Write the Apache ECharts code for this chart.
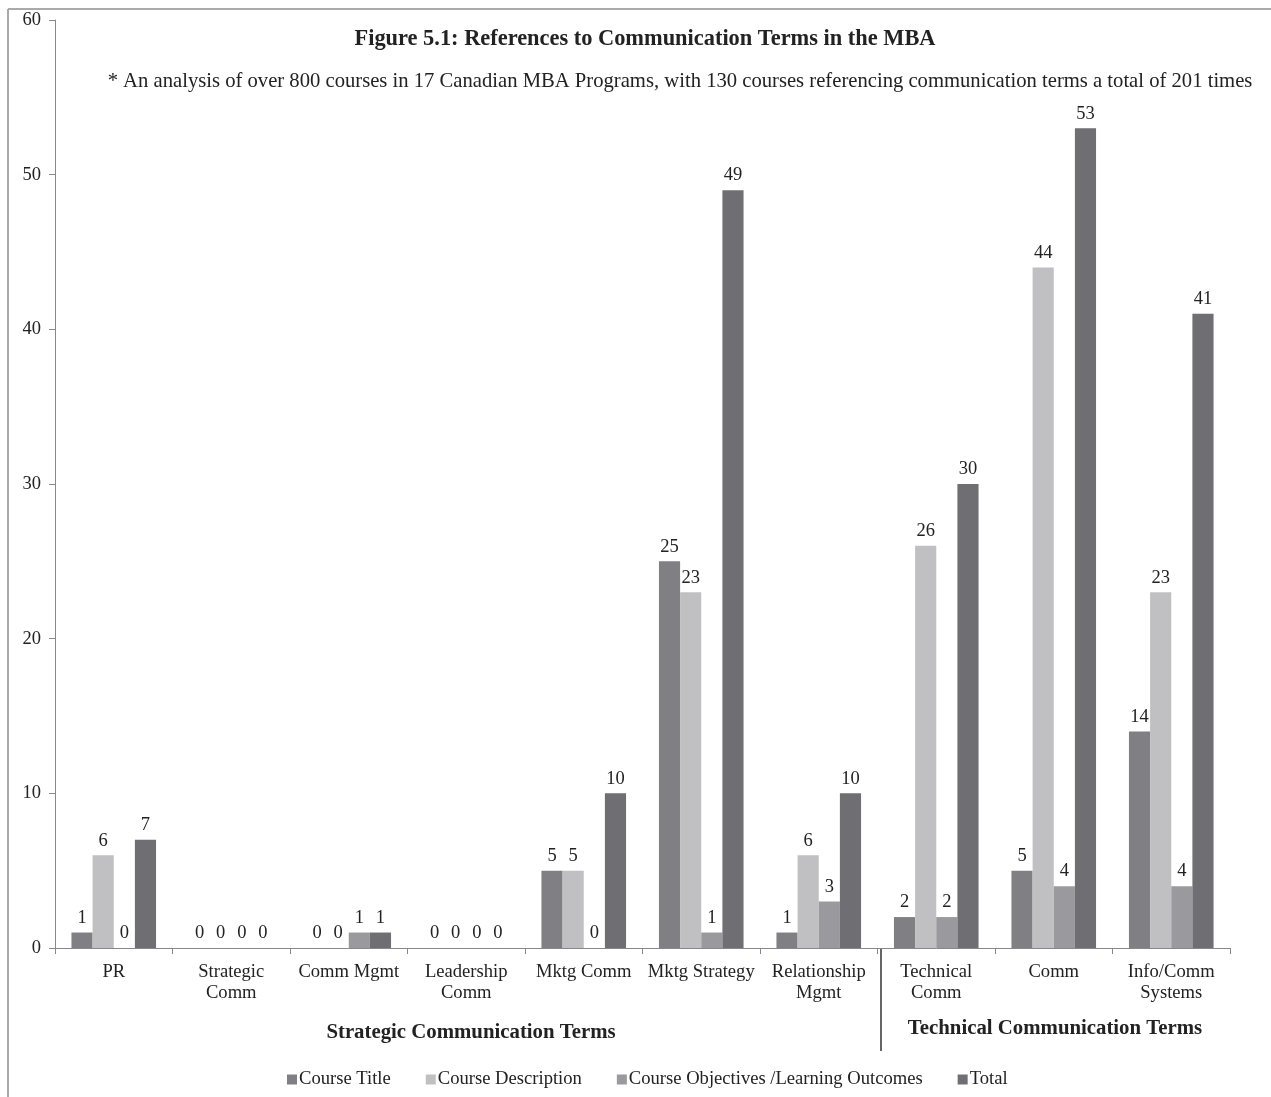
<!DOCTYPE html>
<html><head><meta charset="utf-8">
<script src="https://cdn.jsdelivr.net/npm/echarts@6/dist/echarts.min.js"></script>
<style>html,body{margin:0;padding:0;background:#fff}#c{width:1271px;height:1097px}</style>
</head><body><div id="c"></div>
<script>
var categories = ['PR','Strategic\nComm','Comm Mgmt','Leadership\nComm','Mktg Comm','Mktg Strategy','Relationship\nMgmt','Technical\nComm','Comm','Info/Comm\nSystems'];
var seriesNames = ['Course Title','Course Description','Course Objectives /Learning Outcomes','Total'];
var courseTitle = [1,0,0,0,5,25,1,2,5,14];
var courseDescription = [6,0,0,0,5,23,6,26,44,23];
var courseObjectives = [0,0,1,0,0,1,3,2,4,4];
var total = [7,0,1,0,10,49,10,30,53,41];
var yTicks = [0,10,20,30,40,50,60];
var colors = ['#808084','#c0c0c2','#9a9a9e','#6e6e73'];
var font = "'Liberation Serif','DejaVu Serif',serif";
var chart = echarts.init(document.getElementById('c'));
function mk(name, data, color){
  return {name:name,type:'bar',data:data,barGap:'0%',barCategoryGap:'28%',
    itemStyle:{color:color},
    label:{show:true,position:'top',fontFamily:font,fontSize:18.5,color:'#222',distance:5}};
}
chart.setOption({
  animation:false,
  textStyle:{fontFamily:font},
  title:[
    {text:'Figure 5.1: References to Communication Terms in the MBA',left:640,top:23,textAlign:'center',
     textStyle:{fontFamily:font,fontSize:22.4,fontWeight:'bold',color:'#222'}},
    {text:'* An analysis of over 800 courses in 17 Canadian MBA Programs, with 130 courses referencing communication terms a total of 201 times',
     left:675,top:66,textAlign:'center',textStyle:{fontFamily:font,fontSize:20.65,fontWeight:'normal',color:'#222'}}
  ],
  legend:{bottom:3,left:282,itemWidth:10,itemHeight:10,itemGap:35,icon:'rect',
    textStyle:{fontFamily:font,fontSize:18.6,color:'#222',padding:[0,0,0,-3]},data:seriesNames},
  grid:{left:55,right:41,top:20,bottom:149,containLabel:false},
  xAxis:{type:'category',data:categories,
    axisLine:{lineStyle:{color:'#888'}},
    axisTick:{show:true,alignWithLabel:false,length:6,lineStyle:{color:'#888'}},
    axisLabel:{fontFamily:font,fontSize:18.6,color:'#222',lineHeight:21,margin:14,interval:0}},
  yAxis:{type:'value',min:0,max:60,interval:10,
    axisLine:{show:true,lineStyle:{color:'#888'}},
    axisTick:{show:true,length:6,lineStyle:{color:'#888'}},
    splitLine:{show:false},
    axisLabel:{fontFamily:font,fontSize:18.5,color:'#222',margin:14,
      formatter:function(v){return yTicks.indexOf(v)>=0?String(v):'';}}},
  series:[mk(seriesNames[0],courseTitle,colors[0]),mk(seriesNames[1],courseDescription,colors[1]),
          mk(seriesNames[2],courseObjectives,colors[2]),mk(seriesNames[3],total,colors[3])],
  graphic:[
    {type:'line',shape:{x1:8,y1:9,x2:1271,y2:9},style:{stroke:'#aaa',lineWidth:2}},
    {type:'line',shape:{x1:8,y1:9,x2:8,y2:1097},style:{stroke:'#aaa',lineWidth:2}},
    {type:'line',shape:{x1:881,y1:948,x2:881,y2:1051},style:{stroke:'#333',lineWidth:1.5}},
    {type:'text',x:471,y:1033,style:{text:'Strategic Communication Terms',font:'bold 20.8px '+font,fill:'#222',textAlign:'center',textVerticalAlign:'middle'}},
    {type:'text',x:1055,y:1029,style:{text:'Technical Communication Terms',font:'bold 20.8px '+font,fill:'#222',textAlign:'center',textVerticalAlign:'middle'}}
  ]
});
</script></body></html>
